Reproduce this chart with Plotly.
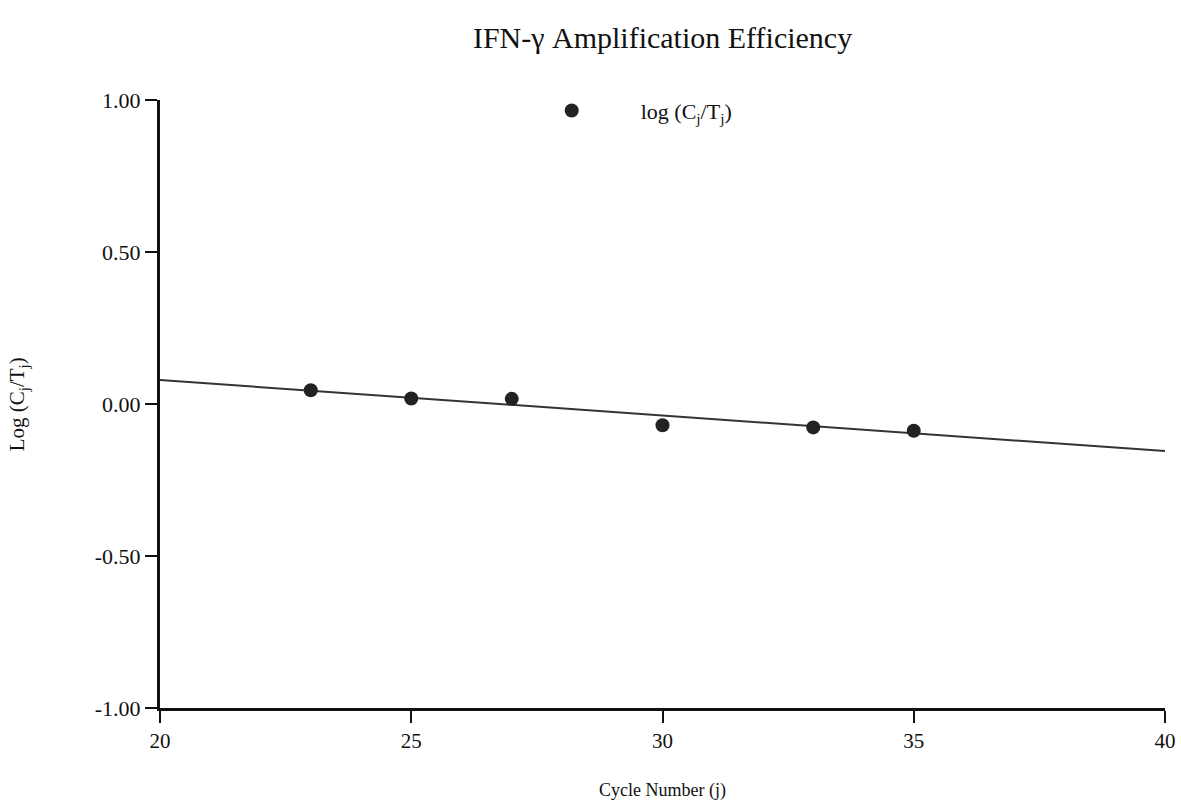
import plotly.graph_objects as go

cycles = [23, 25, 27, 30, 33, 35]
log_ratio = [0.045, 0.018, 0.017, -0.070, -0.077, -0.088]
fit_x = [20, 40]
fit_y = [0.079, -0.155]
x_ticks = [20, 25, 30, 35, 40]
y_ticks = [1.0, 0.5, 0.0, -0.5, -1.0]
y_tick_labels = ["1.00", "0.50", "0.00", "-0.50", "-1.00"]

FONT = "Liberation Serif, Times New Roman, serif"

fig = go.Figure()
fig.add_trace(go.Scatter(x=fit_x, y=fit_y, mode="lines",
                         line=dict(color="#333333", width=2), showlegend=False,
                         hoverinfo="skip"))
fig.add_trace(go.Scatter(x=cycles, y=log_ratio, mode="markers",
                         marker=dict(color="#222222", size=14),
                         name="log (C<sub>j</sub>/T<sub>j</sub>)"))

fig.update_layout(
    width=1181, height=805,
    margin=dict(l=160, r=16, t=100, b=97, autoexpand=False),
    paper_bgcolor="white", plot_bgcolor="white",
    font=dict(family=FONT, color="#111111", size=20),
    title=dict(text="IFN-γ Amplification Efficiency", x=0.561, xanchor="center",
               y=0.953, yanchor="middle", font=dict(size=30, family=FONT)),
    legend=dict(x=0.341, y=1.017, xanchor="left", yanchor="top",
                bgcolor="rgba(0,0,0,0)", itemwidth=128,
                font=dict(size=22, family=FONT)),
    xaxis=dict(range=[20, 40], tickvals=x_ticks, ticks="outside", ticklen=12,
               tickwidth=2, tickcolor="#111", showline=True, linewidth=3,
               linecolor="#111", showgrid=False, zeroline=False,
               tickfont=dict(size=21), automargin=False),
    yaxis=dict(range=[-1, 1], tickvals=y_ticks, ticktext=y_tick_labels,
               ticks="outside", ticklen=12, tickwidth=2, tickcolor="#111",
               showline=True, linewidth=3, linecolor="#111", showgrid=False,
               zeroline=False, tickfont=dict(size=22), automargin=False),
    annotations=[
        dict(text="Cycle Number (j)", xref="paper", yref="paper",
             x=0.5, y=-0.135, xanchor="center", yanchor="middle",
             showarrow=False, font=dict(size=18, family=FONT)),
        dict(text="Log (C<sub>j</sub>/T<sub>j</sub>)", xref="paper", yref="paper",
             x=-0.141, y=0.50, xanchor="center", yanchor="middle", textangle=-90,
             showarrow=False, font=dict(size=21, family=FONT)),
    ],
)

fig.write_html("out.html")
